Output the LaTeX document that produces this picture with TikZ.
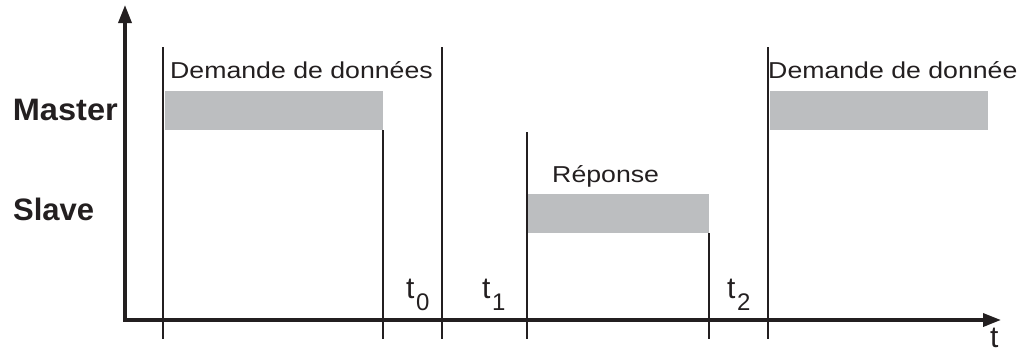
\documentclass[tikz,border=0pt]{standalone}
\usepackage{fontspec}
\setmainfont{Liberation Sans}
\usetikzlibrary{arrows.meta}
\definecolor{ink}{HTML}{231F20}
\definecolor{bargray}{HTML}{BCBEC0}
\tikzset{
  axisline/.style={line width=3.5pt, draw=ink, -{Triangle[length=18pt,width=13pt]}},
  timeline/.style={line width=1.8pt, draw=ink},
  bar/.style={fill=bargray, draw=none, inner sep=0pt, anchor=north west},
  lbl/.style={inner sep=0pt, text=ink, font=\fontsize{23}{27}\selectfont, xscale=1.16, anchor=base west},
  role/.style={inner sep=0pt, text=ink, font=\bfseries\fontsize{31}{36}\selectfont},
  tlbl/.style={inner sep=0pt, text=ink, font=\fontsize{30}{34}\selectfont, anchor=base west}
}
\newcommand{\tsub}[1]{t\kern1.5pt\raisebox{-12pt}{\fontsize{24}{28}\selectfont #1}}
\begin{document}
\begin{tikzpicture}[x=1pt,y=-1pt]
\useasboundingbox (0,0) rectangle (1030,348);
% axes
\coordinate (o) at (125,320);
\coordinate (ytop) at (125,5);
\coordinate (xo) at (123,320);
\coordinate (xend) at (1001,320);
\draw[axisline] (o) -- (ytop);
\draw[axisline] (xo) -- (xend);
% bars
\node[bar, minimum width=218pt, minimum height=39pt] (m1) at (165,91) {};
\node[bar, minimum width=182pt, minimum height=39pt] (s1) at (527,194) {};
\node[bar, minimum width=218pt, minimum height=39pt] (m2) at (770,91) {};
% time lines
\coordinate (a1) at (163,47);  \coordinate (a2) at (163,339);
\coordinate (b1) at (383,130); \coordinate (b2) at (383,339);
\coordinate (c1) at (442,47);  \coordinate (c2) at (442,339);
\coordinate (d1) at (527,132); \coordinate (d2) at (527,339);
\coordinate (e1) at (709,233); \coordinate (e2) at (709,339);
\coordinate (f1) at (768,47);  \coordinate (f2) at (768,339);
\draw[timeline] (a1) -- (a2);
\draw[timeline] (b1) -- (b2);
\draw[timeline] (c1) -- (c2);
\draw[timeline] (d1) -- (d2);
\draw[timeline] (e1) -- (e2);
\draw[timeline] (f1) -- (f2);
% labels
\node[lbl] (l1) at (170,78) {Demande de données};
\node[lbl] (l2) at (552,182) {Réponse};
\node[lbl] (l3) at (768,78) {Demande de donnée};
\node[role, anchor=base east, xscale=1.05] (master) at (118,120) {Master};
\node[role, anchor=base west] (slave) at (13,220) {Slave};
\node[tlbl] (t0) at (406,298) {\tsub{0}};
\node[tlbl] (t1) at (482,298) {\tsub{1}};
\node[tlbl] (t2) at (727,298) {\tsub{2}};
\node[tlbl] (t) at (990,347) {t};
\end{tikzpicture}
\end{document}
